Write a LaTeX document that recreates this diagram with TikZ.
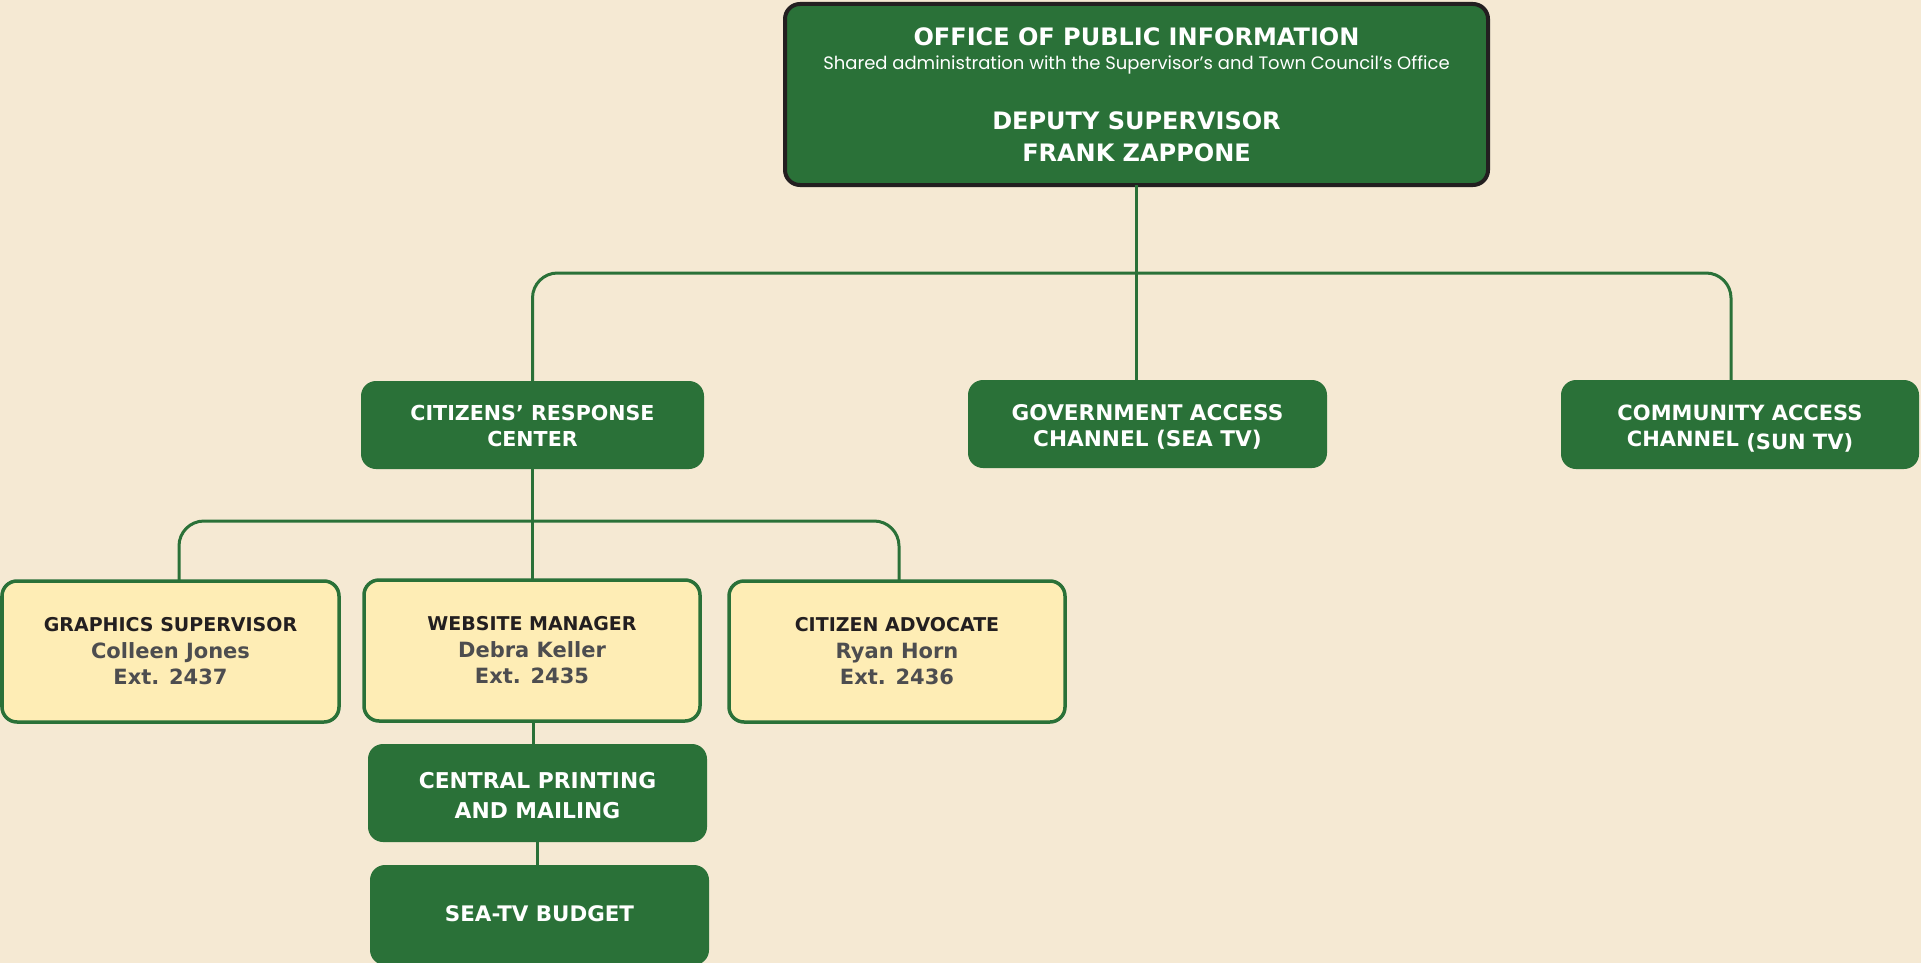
\documentclass[tikz,border=0pt]{standalone}
\usepackage{fontspec}
\newfontfamily\dv{DejaVu Sans}
\newfontfamily\pop{Poppins}
\definecolor{bg}{HTML}{F5E9D3}
\definecolor{grn}{HTML}{2A7138}
\definecolor{yel}{HTML}{FEEDB5}
\definecolor{dark}{HTML}{231F20}
\definecolor{grayt}{HTML}{4D4D4F}
\begin{document}
\begin{tikzpicture}[x=1pt,y=-1pt,
  gbox/.style={fill=grn, rounded corners=15pt, inner sep=0pt, outer sep=0pt},
  gtext/.style={text=white, align=center, inner sep=0pt, font=\dv\bfseries\fontsize{21}{26}\selectfont},
  ybox/.style={fill=yel, draw=grn, line width=3.5pt, rounded corners=15pt, inner sep=0pt, outer sep=0pt, align=center, font=\dv\bfseries\fontsize{21}{26.5}\selectfont},
  conn/.style={draw=grn, line width=3pt},
  toptext/.style={text=white, inner sep=0pt, font=\dv\bfseries\fontsize{24}{28}\selectfont}
]
\useasboundingbox (0,0) rectangle (1921,963);
\fill[bg] (0,0) rectangle (1921,963);

% top box
\node[fill=grn, draw=dark, line width=4pt, rounded corners=15pt, inner sep=0pt, outer sep=0pt,
      minimum width=703pt, minimum height=181pt] (top) at (1136.5,94.5) {};
\node[toptext] (t1) at (1136.5,37) {OFFICE OF PUBLIC INFORMATION};
\node[toptext, font=\pop\fontsize{18}{22}\selectfont] (t2) at (1136.5,65) {Shared administration with the Supervisor’s and Town Council’s Office};
\node[toptext] (t3) at (1136.5,121) {DEPUTY SUPERVISOR};
\node[toptext] (t4) at (1136.5,153) {FRANK ZAPPONE};

% second level
\node[gbox, minimum width=343pt, minimum height=88pt] (crc) at (532.5,425) {};
\node[gtext, font=\dv\bfseries\fontsize{20.6}{26}\selectfont] (crct) at (532.5,426) {CITIZENS’ RESPONSE\\CENTER};
\node[gbox, minimum width=359pt, minimum height=88pt] (gov) at (1147.5,424) {};
\node[gtext, font=\dv\bfseries\fontsize{21.6}{26}\selectfont] (govt) at (1147.5,426.5) {GOVERNMENT ACCESS\\CHANNEL (SEA TV)};
\node[gbox, minimum width=358pt, minimum height=89pt] (comm) at (1740,424.5) {};
\node[gtext] (commt) at (1740,428.5) {COMMUNITY ACCESS\\CHANNEL \raisebox{-2.5pt}{(SUN TV)}};

% third level
\node[ybox, minimum width=337pt, minimum height=141pt] (gs) at (170.5,651.5)
  {{\color{dark}\fontsize{19}{26.5}\selectfont GRAPHICS SUPERVISOR}\\{\color{grayt}Colleen Jones}\\{\color{grayt}Ext. 2437}};
\node[ybox, minimum width=336pt, minimum height=141pt] (web) at (532,650.5)
  {{\color{dark}\fontsize{19}{26.5}\selectfont WEBSITE MANAGER}\\{\color{grayt}Debra Keller}\\{\color{grayt}Ext. 2435}};
\node[ybox, minimum width=336pt, minimum height=141pt] (ca) at (897,651.5)
  {{\color{dark}\fontsize{19}{26.5}\selectfont CITIZEN ADVOCATE}\\{\color{grayt}Ryan Horn}\\{\color{grayt}Ext. 2436}};

% bottom boxes
\node[gbox, minimum width=339pt, minimum height=98pt] (cpm) at (537.5,793) {};
\node[gtext, font=\dv\bfseries\fontsize{21.8}{29.5}\selectfont] (cpmt) at (537.5,795.5) {CENTRAL PRINTING\\AND MAILING};
\node[gbox, minimum width=339pt, minimum height=100pt] (sea) at (539.5,915) {};
\node[gtext, font=\dv\bfseries\fontsize{21.4}{26}\selectfont] (seat) at (539.5,914) {SEA-TV BUDGET};

% connectors
\coordinate (b1) at (1136,273);
\coordinate (cR) at (1731,380);
\coordinate (b2) at (533,521);
\coordinate (gsT) at (179,581);
\coordinate (caT) at (899,581);
\draw[conn, line width=2.5pt] (top.south) -- (top.south |- gov.north);
\draw[conn, rounded corners=25pt] (crc.north) |- (b1) -| (cR);
\draw[conn, rounded corners=25pt] (gsT) |- (b2) -| (caT);
\draw[conn] (crc.south) -- (crc.south |- web.north);
\draw[conn] (web.south -| b2) -- (b2 |- cpm.north);
\draw[conn] (cpm.south) -- (cpm.south |- sea.north);
\end{tikzpicture}
\end{document}
